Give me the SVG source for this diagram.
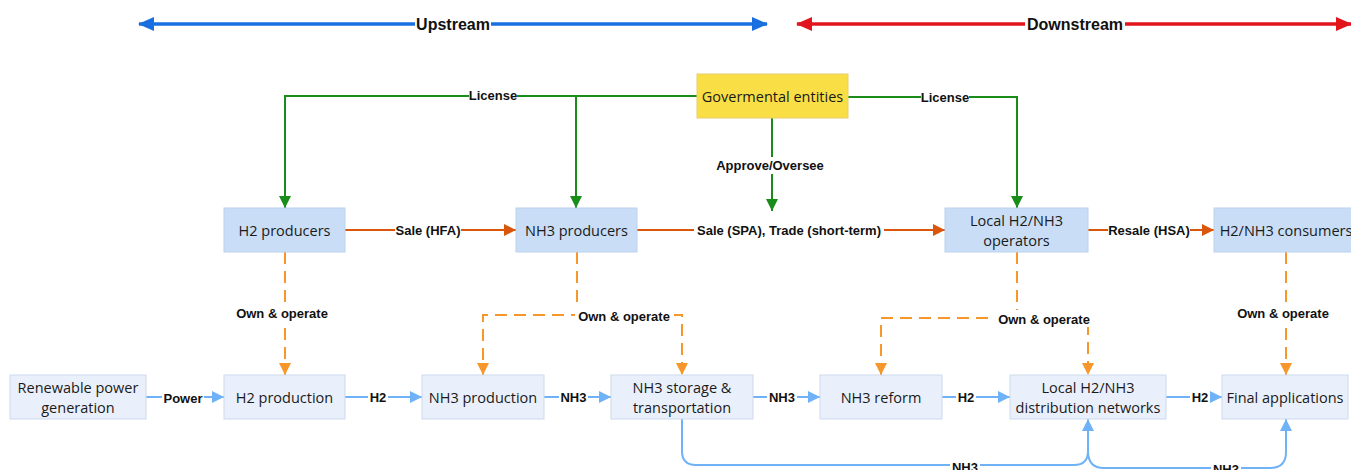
<svg xmlns="http://www.w3.org/2000/svg" width="1351" height="470" viewBox="0 0 1351 470">
<style>
.n1 rect{fill:#C9DEF6;stroke:#BCD2EE;stroke-width:1}
.n2 rect{fill:#EAF0FB;stroke:#CCD9EC;stroke-width:1}
.gov rect{fill:#F9DF45;stroke:#E6CF6A;stroke-width:1}
.nt{font-family:"Open Sans","Noto Sans",sans-serif;font-size:14.5px;fill:#1a1a1a;text-anchor:middle;dominant-baseline:central}
.lb{font-family:"Liberation Sans",Arial,sans-serif;font-weight:bold;font-size:13px;fill:#111;text-anchor:middle;dominant-baseline:central}
.big{font-size:16px}
.bg{fill:#fff}
.g{fill:none;stroke:#1A8C1A;stroke-width:2}
.o{fill:none;stroke:#D9560C;stroke-width:2}
.od{fill:none;stroke:#F7962A;stroke-width:2;stroke-dasharray:12,7}
.b{fill:none;stroke:#70B2F8;stroke-width:2}
</style>
<defs>
<marker id="ag" markerUnits="userSpaceOnUse" markerWidth="12" markerHeight="12" refX="12" refY="6" orient="auto"><path d="M0,0 L12,6 L0,12 z" fill="#1A8C1A"/></marker>
<marker id="ao" markerUnits="userSpaceOnUse" markerWidth="12" markerHeight="12" refX="12" refY="6" orient="auto"><path d="M0,0 L12,6 L0,12 z" fill="#D9560C"/></marker>
<marker id="aod" markerUnits="userSpaceOnUse" markerWidth="12" markerHeight="12" refX="12" refY="6" orient="auto"><path d="M0,0 L12,6 L0,12 z" fill="#F7962A"/></marker>
<marker id="ab" markerUnits="userSpaceOnUse" markerWidth="12" markerHeight="12" refX="12" refY="6" orient="auto"><path d="M0,0 L12,6 L0,12 z" fill="#70B2F8"/></marker>
<marker id="au" markerUnits="userSpaceOnUse" markerWidth="16" markerHeight="14" refX="15" refY="7" orient="auto-start-reverse"><path d="M0,0 L16,7 L0,14 z" fill="#1A6FE0"/></marker>
<marker id="ad" markerUnits="userSpaceOnUse" markerWidth="16" markerHeight="14" refX="15" refY="7" orient="auto-start-reverse"><path d="M0,0 L16,7 L0,14 z" fill="#E3151C"/></marker>
</defs>

<g id="stream-arrows">
<line x1="139" y1="24" x2="767" y2="24" stroke="#1A6FE0" stroke-width="3.5" marker-start="url(#au)" marker-end="url(#au)"/>
<rect class="bg" x="415" y="15" width="76" height="18"/>
<text class="lb big" x="453" y="24">Upstream</text>
<line x1="797" y1="24" x2="1351" y2="24" stroke="#E3151C" stroke-width="3.5" marker-start="url(#ad)" marker-end="url(#ad)"/>
<rect class="bg" x="1025" y="15" width="100" height="18"/>
<text class="lb big" x="1075" y="24">Downstream</text>
</g>

<g id="connectors">
<path class="g" d="M697,96 L285,96 L285,208" marker-end="url(#ag)"/>
<path class="g" d="M576,96 L576,208" marker-end="url(#ag)"/>
<path class="g" d="M848,97 L1017,97 L1017,208" marker-end="url(#ag)"/>
<path class="g" d="M772,118 L772,211" marker-end="url(#ag)"/>
<path class="o" d="M345,230 L516,230" marker-end="url(#ao)"/>
<path class="o" d="M637,230 L945,230" marker-end="url(#ao)"/>
<path class="o" d="M1088,230 L1214,230" marker-end="url(#ao)"/>
<path class="od" d="M285,252 L285,375" marker-end="url(#aod)"/>
<path class="od" d="M577,252 L577,315 L483,315 L483,375" marker-end="url(#aod)"/>
<path class="od" d="M577,315 L682,315 L682,375" marker-end="url(#aod)"/>
<path class="od" d="M1017,252 L1017,318 L881,318 L881,375" marker-end="url(#aod)"/>
<path class="od" d="M1017,318 L1088,318 L1088,375" marker-end="url(#aod)"/>
<path class="od" d="M1286,252 L1286,375" marker-end="url(#aod)"/>
<path class="b" d="M146,397 L224,397" marker-end="url(#ab)"/>
<path class="b" d="M345,397 L422,397" marker-end="url(#ab)"/>
<path class="b" d="M544,397 L611,397" marker-end="url(#ab)"/>
<path class="b" d="M753,397 L820,397" marker-end="url(#ab)"/>
<path class="b" d="M942,397 L1010,397" marker-end="url(#ab)"/>
<path class="b" d="M1166,397 L1222,397" marker-end="url(#ab)"/>
<path class="b" d="M682,419 L682,451 Q682,465 696,465 L1074,465 Q1088,465 1088,451 L1088,419" marker-end="url(#ab)"/>
<path class="b" d="M1088,451 Q1088,468 1104,468 L1270,468 Q1286,468 1286,452 L1286,419" marker-end="url(#ab)"/>

<rect class="bg" x="469" y="87" width="48" height="16"/>
<text class="lb" x="493" y="95">License</text>
<rect class="bg" x="921" y="89" width="48" height="16"/>
<text class="lb" x="945" y="97">License</text>
<rect class="bg" x="712" y="157" width="116" height="17"/>
<text class="lb" x="770" y="165">Approve/Oversee</text>
<rect class="bg" x="395" y="222" width="66" height="16"/>
<text class="lb" x="428" y="230">Sale (HFA)</text>
<rect class="bg" x="694" y="222" width="190" height="16"/>
<text class="lb" x="789" y="230">Sale (SPA), Trade (short-term)</text>
<rect class="bg" x="1108" y="222" width="82" height="16"/>
<text class="lb" x="1149" y="230">Resale (HSA)</text>
<rect class="bg" x="233" y="305" width="98" height="17"/>
<text class="lb" x="282" y="313">Own &amp; operate</text>
<rect class="bg" x="575" y="307" width="99" height="17"/>
<text class="lb" x="624" y="316">Own &amp; operate</text>
<rect class="bg" x="995" y="310" width="99" height="17"/>
<text class="lb" x="1044" y="319">Own &amp; operate</text>
<rect class="bg" x="1234" y="305" width="99" height="17"/>
<text class="lb" x="1283" y="313">Own &amp; operate</text>
<rect class="bg" x="162" y="390" width="42" height="16"/>
<text class="lb" x="183" y="398">Power</text>
<rect class="bg" x="368" y="389" width="20" height="16"/>
<text class="lb" x="378" y="397">H2</text>
<rect class="bg" x="559" y="389" width="29" height="16"/>
<text class="lb" x="573.5" y="397">NH3</text>
<rect class="bg" x="767" y="389" width="30" height="16"/>
<text class="lb" x="782" y="397">NH3</text>
<rect class="bg" x="956" y="389" width="20" height="16"/>
<text class="lb" x="966" y="397">H2</text>
<rect class="bg" x="1190" y="389" width="20" height="16"/>
<text class="lb" x="1200" y="397">H2</text>
<rect class="bg" x="950" y="459" width="30" height="16"/>
<text class="lb" x="965" y="467">NH3</text>
<rect class="bg" x="1211" y="461" width="30" height="16"/>
<text class="lb" x="1226" y="469">NH3</text>
</g>

<g id="gov" class="gov"><rect x="697" y="74" width="151" height="44"/><text class="nt" x="772.5" y="96">Govermental entities</text></g>

<g id="h2-producers" class="n1"><rect x="224" y="208" width="121" height="44"/><text class="nt" x="284.5" y="230">H2 producers</text></g>
<g id="nh3-producers" class="n1"><rect x="516" y="208" width="121" height="44"/><text class="nt" x="576.5" y="230">NH3 producers</text></g>
<g id="local-operators" class="n1"><rect x="945" y="208" width="143" height="44"/><text class="nt" x="1016.5" y="220">Local H2/NH3</text><text class="nt" x="1016.5" y="240">operators</text></g>
<g id="consumers" class="n1"><rect x="1214" y="208" width="145" height="44"/><text class="nt" x="1286" y="230">H2/NH3 consumers</text></g>

<g id="renewable" class="n2"><rect x="10" y="375" width="136" height="44"/><text class="nt" x="78" y="387">Renewable power</text><text class="nt" x="78" y="407">generation</text></g>
<g id="h2-production" class="n2"><rect x="224" y="375" width="121" height="44"/><text class="nt" x="284.5" y="397">H2 production</text></g>
<g id="nh3-production" class="n2"><rect x="422" y="375" width="122" height="44"/><text class="nt" x="483" y="397">NH3 production</text></g>
<g id="nh3-storage" class="n2"><rect x="611" y="375" width="142" height="44"/><text class="nt" x="682" y="387">NH3 storage &amp;</text><text class="nt" x="682" y="407">transportation</text></g>
<g id="nh3-reform" class="n2"><rect x="820" y="375" width="122" height="44"/><text class="nt" x="881" y="397">NH3 reform</text></g>
<g id="distribution" class="n2"><rect x="1010" y="375" width="156" height="44"/><text class="nt" x="1088" y="387">Local H2/NH3</text><text class="nt" x="1088" y="407">distribution networks</text></g>
<g id="final-apps" class="n2"><rect x="1222" y="375" width="126" height="44"/><text class="nt" x="1285" y="397">Final applications</text></g>
</svg>
